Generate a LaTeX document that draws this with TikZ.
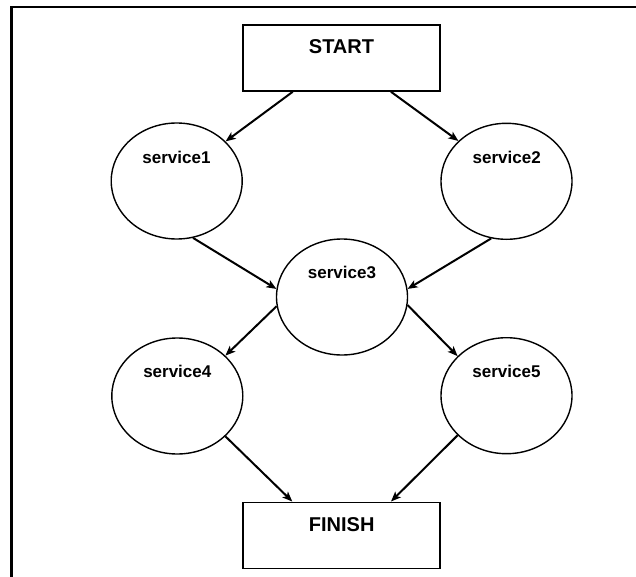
\documentclass[tikz,border=0pt]{standalone}
\usepackage{fontspec}
\setmainfont{Liberation Sans}
\usetikzlibrary{arrows.meta,calc,shapes.geometric}
\begin{document}
\begin{tikzpicture}[x=1pt,y=-1pt,
  stepbox/.style={draw, line width=1.6pt, minimum width=197pt, minimum height=66pt, inner sep=0pt},
  svc/.style={draw, ellipse, line width=1.4pt, minimum width=131pt, minimum height=116pt, inner sep=0pt},
  boxtext/.style={anchor=base, inner sep=0pt, font=\fontsize{20}{24}\selectfont\bfseries},
  svctext/.style={anchor=base, inner sep=0pt, font=\fontsize{17}{20}\selectfont\bfseries},
  flow/.style={line width=2pt, -{Stealth[length=10pt,width=8pt,inset=2.5pt]}}]
\useasboundingbox (0,0) rectangle (636,577);

% outer frame (top and left edges)
\draw[line width=2.4pt] (636,7.3) -- (11.5,7.3) -- (11.5,577);

% start and finish boxes
\node[stepbox] (start) at (341.5,58) {};
\node[boxtext] (starttext) at (341.5,53.3) {START};
\node[stepbox] (finish) at (341.7,535.3) {};
\node[boxtext] (finishtext) at (341.7,531.7) {FINISH};

% services
\node[svc] (s1) at (176.7,181) {};
\node[svctext] (s1text) at (176.5,163.3) {service1};
\node[svc] (s2) at (506.5,181.3) {};
\node[svctext] (s2text) at (506.7,163.3) {service2};
\node[svc] (s3) at (342,297) {};
\node[svctext] (s3text) at (342,278) {service3};
\node[svc] (s4) at (177.3,396) {};
\node[svctext] (s4text) at (177.3,377.3) {service4};
\node[svc] (s5) at (506.5,395.7) {};
\node[svctext] (s5text) at (506.5,377.3) {service5};

% flow arrows
\draw[flow] ($(start.south)+(-48.8,0)$) -- (s1.39);
\draw[flow] ($(start.south)+(49.5,0)$) -- (s2.140);
\draw[flow] (s1.286) -- (s3.173);
\draw[flow] (s2.255) -- (s3.7);
\draw[flow] (s3.188) -- (s4.40);
\draw[flow] (s3.353) -- (s5.141);
\draw[flow] (s4.320) -- ($(finish.north)+(-49.4,0)$);
\draw[flow] (s5.219) -- ($(finish.north)+(49.3,0)$);
\end{tikzpicture}
\end{document}
